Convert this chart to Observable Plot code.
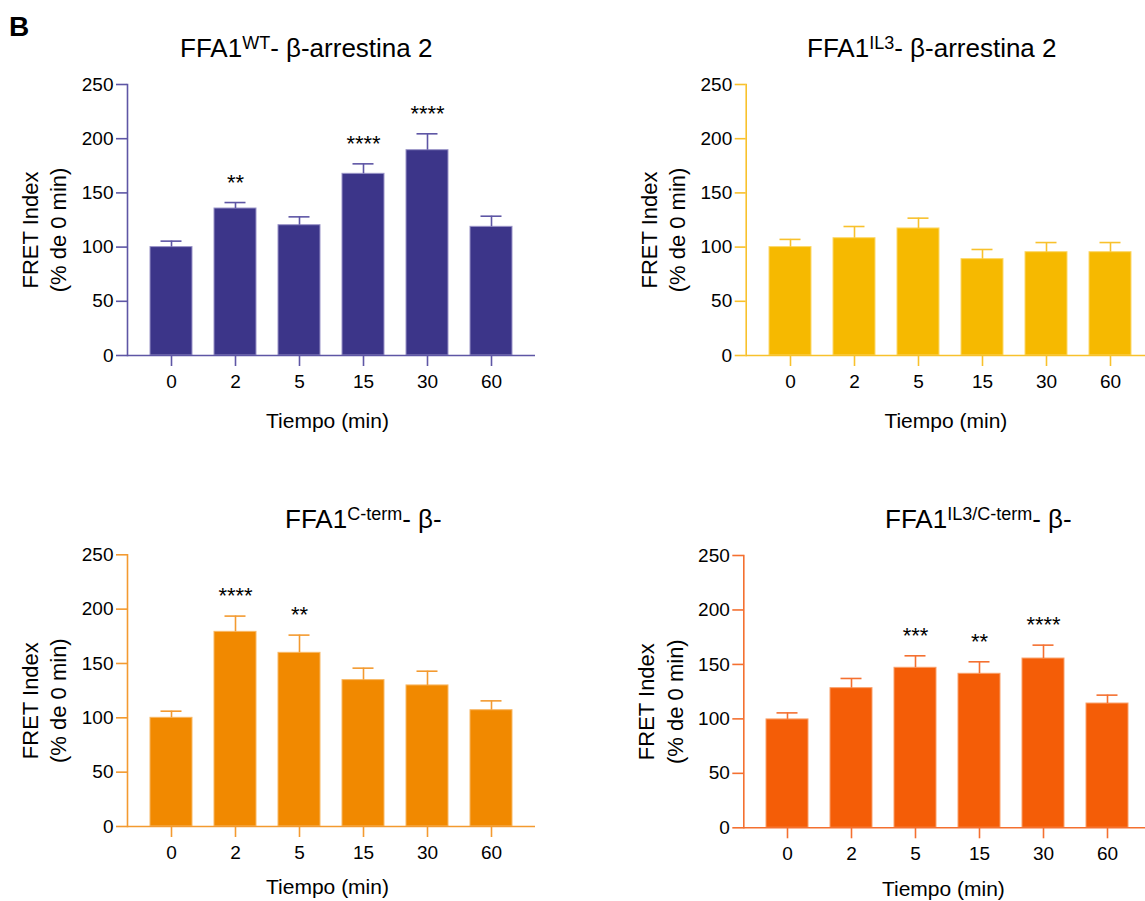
<!DOCTYPE html>
<html>
<head>
<meta charset="utf-8">
<script src="https://cdn.jsdelivr.net/npm/d3@7"></script>
<script src="https://cdn.jsdelivr.net/npm/@observablehq/plot@0.6"></script>
<style>
  html, body { margin: 0; padding: 0; background: #fff; overflow: hidden; }
  #root { position: relative; width: 1145px; height: 901px; overflow: hidden; font-family: "Liberation Sans", Arial, sans-serif; }
  .panel { position: absolute; }
  .panel svg { max-width: none !important; }
  .title { position: absolute; font-size: 26px; line-height: 26px; white-space: nowrap; color: #000; }
  .title .sup { font-size: 18px; position: relative; top: -8px; }
  .tag { position: absolute; font-weight: bold; font-size: 28px; line-height: 28px; left: 9px; top: 13px; }
</style>
</head>
<body>
<div id="root"><div class="tag">B</div></div>
<script>
// ---- data ----
const times = ["0", "2", "5", "15", "30", "60"];
const yTicks = [0, 50, 100, 150, 200, 250];

const wtMean = [100, 135.6, 120.2, 167.6, 189.4, 118.7];
const wtErr  = [5.5, 5.5, 7.7, 9.2, 15.1, 9.8];
const wtSig  = ["", "**", "", "****", "****", ""];

const il3Mean = [100, 108.2, 117.2, 88.9, 95.3, 95.3];
const il3Err  = [7.1, 10.8, 9.5, 8.9, 8.9, 8.9];
const il3Sig  = ["", "", "", "", "", ""];

const ctMean = [100, 179.1, 159.8, 134.7, 129.8, 107];
const ctErr  = [6.1, 14.5, 16.3, 11, 13.1, 8.6];
const ctSig  = ["", "****", "**", "", "", ""];

const il3ctMean = [99.5, 128.2, 146.9, 141.4, 155.4, 114.1];
const il3ctErr  = [6, 8.9, 11, 11, 12.3, 7.7];
const il3ctSig  = ["", "", "***", "**", "****", ""];

const panels = [
  {base: "FFA1", sup: "WT", rest: "- β-arrestina 2", mean: wtMean, err: wtErr, sig: wtSig,
   fill: "#3c3589", edge: "#9a94c8", axis: "#5e56a5",
   left: 0, top: 70, width: 560, mL: 127, mR: 25, mT: 14, mB: 95, titleLeft: 180, titleTop: 35, xlabDy: 66},
  {base: "FFA1", sup: "IL3", rest: "- β-arrestina 2", mean: il3Mean, err: il3Err, sig: il3Sig,
   fill: "#f6b900", edge: "#fcd86a", axis: "#f8c12c",
   left: 620, top: 70, width: 540, mL: 125.7, mR: 7, mT: 14, mB: 95, titleLeft: 807, titleTop: 35, xlabDy: 66},
  {base: "FFA1", sup: "C-term", rest: "- β-", mean: ctMean, err: ctErr, sig: ctSig,
   fill: "#f18900", edge: "#f8b865", axis: "#f39a30",
   left: 0, top: 540, width: 560, mL: 127, mR: 25, mT: 14.3, mB: 94, titleLeft: 285, titleTop: 506, xlabDy: 61},
  {base: "FFA1", sup: "IL3/C-term", rest: "- β-", mean: il3ctMean, err: il3ctErr, sig: il3ctSig,
   fill: "#f45d07", edge: "#f9a06a", axis: "#f47030",
   left: 620, top: 541, width: 540, mL: 123.3, mR: 9.5, mT: 14, mB: 93.7, titleLeft: 885, titleTop: 506, xlabDy: 61}
];

const root = document.getElementById("root");
const font = "Liberation Sans, Arial, sans-serif";

for (const p of panels) {
  const data = times.map((t, i) => ({t, m: p.mean[i], e: p.err[i], top: p.mean[i] + p.err[i], sig: p.sig[i]}));
  const height = 380;
  const chart = Plot.plot({
    width: p.width,
    height,
    marginLeft: p.mL, marginRight: p.mR, marginTop: p.mT, marginBottom: p.mB,
    style: {fontFamily: font, color: "#000", background: "transparent", overflow: "visible", maxWidth: "none"},
    x: {domain: times, padding: 0.35, label: null},
    y: {domain: [0, 250], label: null},
    marks: [
      Plot.barY(data, {x: "t", y: "m", fill: p.fill, stroke: p.edge, strokeWidth: 1}),
      Plot.ruleX(data, {x: "t", y1: "m", y2: "top", stroke: p.axis, strokeWidth: 1.6}),
      Plot.tickY(data, {x: "t", y: "top", stroke: p.axis, strokeWidth: 1.6, insetLeft: 10.5, insetRight: 10.5}),
      Plot.text(data.filter(d => d.sig), {x: "t", y: "top", text: "sig", dy: -20, fontSize: 22, lineAnchor: "middle", fill: "#000"}),
      Plot.ruleY([0], {stroke: p.axis, strokeWidth: 1.6}),
      Plot.frame({anchor: "left", stroke: p.axis, strokeWidth: 1.6}),
      Plot.axisY({ticks: yTicks, tickSize: 11, tickPadding: 3, fontSize: 19, stroke: p.axis, strokeWidth: 1.6, fill: "#000", label: null, tickFormat: d => String(d)}),
      Plot.axisX({tickSize: 11, tickPadding: 8, fontSize: 19, stroke: p.axis, strokeWidth: 1.6, fill: "#000", label: null}),
      Plot.text(["FRET Index\n(% de 0 min)"], {frameAnchor: "left", textAnchor: "middle", rotate: -90, dx: -84.5, dy: 10, fontSize: 22, lineHeight: 1.3, lineAnchor: "middle", fill: "#000"}),
      Plot.text(["Tiempo (min)"], {frameAnchor: "bottom", textAnchor: "middle", dy: p.xlabDy, dx: -4, fontSize: 21, lineAnchor: "middle", fill: "#000"})
    ]
  });
  const wrap = document.createElement("div");
  wrap.className = "panel";
  wrap.style.left = p.left + "px";
  wrap.style.top = p.top + "px";
  wrap.style.width = p.width + "px";
  wrap.appendChild(chart);
  root.appendChild(wrap);

  const title = document.createElement("div");
  title.className = "title";
  title.style.left = p.titleLeft + "px";
  title.style.top = p.titleTop + "px";
  const b = document.createElement("span"); b.textContent = p.base;
  const s = document.createElement("span"); s.className = "sup"; s.textContent = p.sup;
  const r = document.createElement("span"); r.textContent = p.rest;
  title.append(b, s, r);
  root.appendChild(title);
}
</script>
</body>
</html>
